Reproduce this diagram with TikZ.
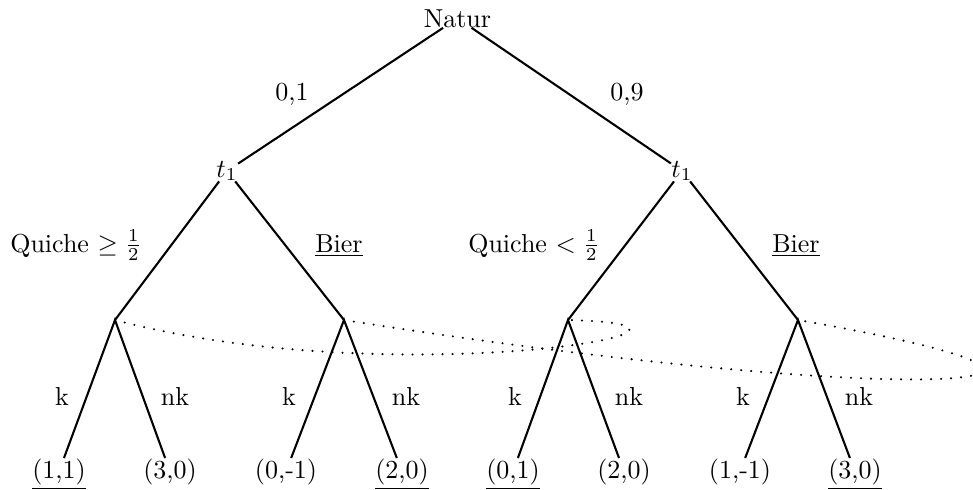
\documentclass[tikz,border=0pt]{standalone}
\begin{document}
\begin{tikzpicture}[x=0.3846pt,y=-0.3846pt,
  edge/.style={line width=0.8pt},
  lbl/.style={inner sep=0pt, anchor=base},
  leaf/.style={inner sep=0pt, text height=7.5pt, text depth=2.5pt, anchor=base},
  info/.style={line width=0.9pt, line cap=round, dash pattern=on 0pt off 3.85pt}]
\useasboundingbox (0,0) rectangle (973,490);
% decision nodes
\node[lbl] (natur) at (457.5,27) {Natur};
\node[lbl] (t1L) at (227,177) {$t_1$};
\node[lbl] (t1R) at (682,177) {$t_1$};
\coordinate (n1) at (115,320);
\coordinate (n2) at (344,320);
\coordinate (n3) at (568,320);
\coordinate (n4) at (798,320);
% leaves
\node[leaf] (l1) at (59,478) {\underline{(1,1)}};
\node[leaf] (l2) at (170,478) {(3,0)};
\node[leaf] (l3) at (286,478) {(0,-1)};
\node[leaf] (l4) at (402,478) {\underline{(2,0)}};
\node[leaf] (l5) at (513,478) {\underline{(0,1)}};
\node[leaf] (l6) at (624,478) {(2,0)};
\node[leaf] (l7) at (740,478) {(1,-1)};
\node[leaf] (l8) at (855,478) {\underline{(3,0)}};
% edges
\draw[edge] (t1L) -- (natur) -- (t1R);
\draw[edge] (n1) -- (t1L) -- (n2);
\draw[edge] (n3) -- (t1R) -- (n4);
\draw[edge] (l1) -- (n1) -- (l2);
\draw[edge] (l3) -- (n2) -- (l4);
\draw[edge] (l5) -- (n3) -- (l6);
\draw[edge] (l7) -- (n4) -- (l8);
% information sets
\draw[info] (n1) .. controls (400,395) and (780,325) .. (n3);
\draw[info] (n2) .. controls (900,408) and (1200,390) .. (n4);
% labels
\node[lbl] (p1) at (292,100) {0,1};
\node[lbl] (p9) at (627,100) {0,9};
\node[lbl] (q1) at (76,252) {Quiche $\geq \frac{1}{2}$};
\node[lbl] (b1) at (339,252) {\underline{Bier}};
\node[lbl] (q2) at (534,252) {Quiche $< \frac{1}{2}$};
\node[lbl] (b2) at (796,252) {\underline{Bier}};
\node[lbl] (k1) at (62,405) {k};
\node[lbl] (nk1) at (175,405) {nk};
\node[lbl] (k2) at (289,405) {k};
\node[lbl] (nk2) at (406,405) {nk};
\node[lbl] (k3) at (515,405) {k};
\node[lbl] (nk3) at (629,405) {nk};
\node[lbl] (k4) at (743,405) {k};
\node[lbl] (nk4) at (859,405) {nk};
\end{tikzpicture}
\end{document}
